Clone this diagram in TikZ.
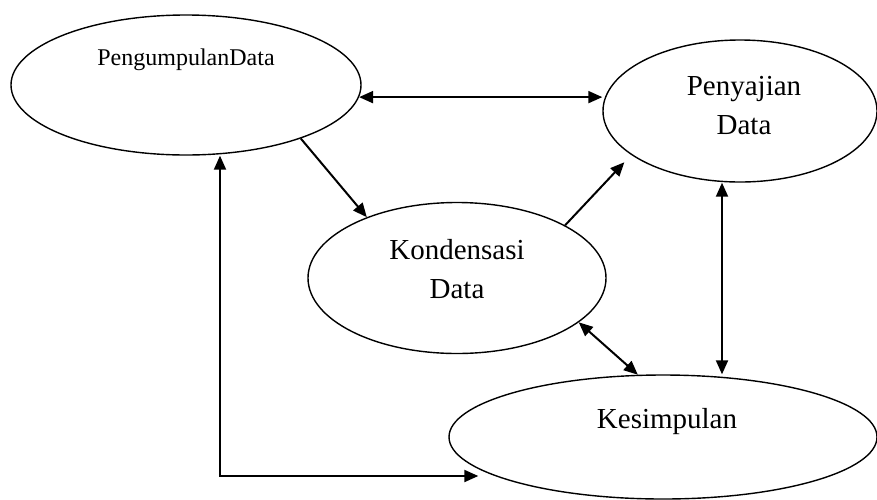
\documentclass[tikz,border=0pt]{standalone}
\usepackage{fontspec}
\setmainfont{Liberation Serif}
\usetikzlibrary{shapes.geometric,arrows.meta}

\tikzset{
  proses/.style={draw, ellipse, line width=1.4pt, inner sep=0pt},
  teks/.style={anchor=base, font=\fontsize{29}{39}\selectfont, align=center},
  panah/.style={line width=2pt, -{Triangle[length=14pt,width=12pt]}},
  panahdua/.style={line width=2pt, {Triangle[length=14pt,width=12pt]}-{Triangle[length=14pt,width=12pt]}}
}

\begin{document}
\begin{tikzpicture}[x=1pt,y=-1pt]
        \useasboundingbox (0,0) rectangle (877,499);

        % ellips
        \node[proses, minimum width=350pt, minimum height=140pt] (kumpul) at (186,85) {};
        \node[proses, minimum width=274pt, minimum height=142pt] (saji) at (740,111) {};
        \node[proses, minimum width=298pt, minimum height=151pt] (kondensasi) at (457,278) {};
        \node[proses, minimum width=428pt, minimum height=124pt] (simpul) at (663,437) {};

        % teks (base = baris terakhir)
        \node[teks, font=\fontsize{24}{28}\selectfont] (tkumpul) at (186,65) {PengumpulanData};
        \node[teks] (tsaji) at (744,134) {Penyajian\\Data};
        \node[teks] (tkondensasi) at (457,298) {Kondensasi\\Data};
        \node[teks] (tsimpul) at (667,428) {Kesimpulan};

        % panah
        \draw[panahdua] (kumpul.-4) -- (kumpul.-4 -| saji.west);
        \draw[panah] (kumpul.-25) -- (kondensasi.146);
        \draw[panah, shorten >=10pt] (kondensasi.26) -- (saji.202);
        \draw[panahdua] ([xshift=-18pt]saji.south) -- ([xshift=-18pt]saji.south |- simpul.north);
        \draw[panahdua] (kondensasi.-20) -- (simpul.112);

        \coordinate (sudut) at (220,476);
        \draw[panahdua] (kumpul.south -| sudut) -- (sudut) -- ([xshift=30pt]simpul.west |- sudut);
\end{tikzpicture}
\end{document}
